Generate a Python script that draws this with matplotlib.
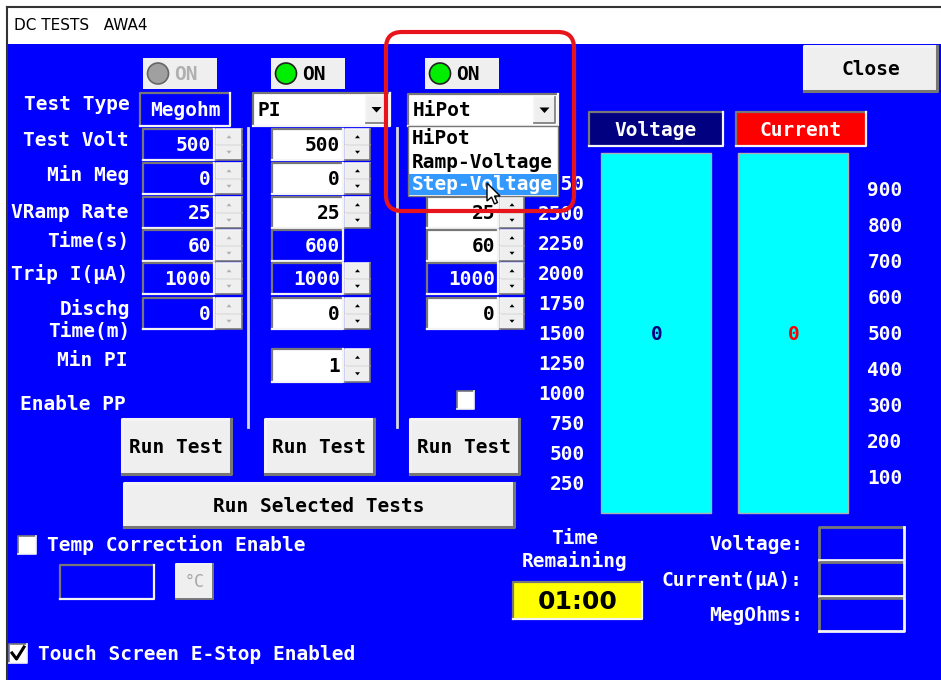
import matplotlib
matplotlib.use('Agg')
import matplotlib.pyplot as plt
from matplotlib.patches import Rectangle, FancyBboxPatch, Circle, Polygon

# ---- values shown on the screen ----
window_title = 'DC TESTS   AWA4'
test_types = ['Megohm', 'PI', 'HiPot']
test_enabled = [False, True, True]
row_labels = ['Test Volt', 'Min Meg', 'VRamp Rate', 'Time(s)', 'Trip I(μA)', 'Dischg\nTime(m)']
megohm_values = ['500', '0', '25', '60', '1000', '0']
pi_values = ['500', '0', '25', '600', '1000', '0']
hipot_values = ['500', '0', '25', '60', '1000', '0']
min_pi = '1'
dropdown_items = ['HiPot', 'Ramp-Voltage', 'Step-Voltage']
volt_ticks = [2750, 2500, 2250, 2000, 1750, 1500, 1250, 1000, 750, 500, 250]
curr_ticks = [900, 800, 700, 600, 500, 400, 300, 200, 100]
voltage_reading = 0
current_reading = 0
time_remaining = '01:00'
readout_labels = ['Voltage:', 'Current(μA):', 'MegOhms:']

BLUE = '#0000FF'
GRAY = '#EFEFEF'
MONO = 'DejaVu Sans Mono'

fig = plt.figure(figsize=(9.41, 6.80), dpi=100)
ax = fig.add_axes([0, 0, 1, 1])
ax.set_xlim(0, 941)
ax.set_ylim(680, 0)
ax.axis('off')


def box(x0, y0, x1, y1, fc, style='sunken', z=2, lw=1.6):
    ax.add_patch(Rectangle((x0, y0), x1 - x0, y1 - y0, fc=fc, ec='none', zorder=z))
    dark, light = '#777777', '#F4F4F4'
    tl, br = (dark, light) if style == 'sunken' else (light, dark)
    ax.plot([x0, x0, x1], [y1, y0, y0], color=tl, lw=lw, zorder=z + 0.1)
    ax.plot([x0, x1, x1], [y1, y1, y0], color=br, lw=lw, zorder=z + 0.1)


def txt(x, y, s, color='white', ha='left', size=14, weight='bold', family=MONO, z=5):
    ax.text(x, y, s, color=color, ha=ha, va='center', fontsize=size,
            fontweight=weight, family=family, zorder=z)


def spinner(x0, y0, x1, y1, enabled=True):
    ym = (y0 + y1) / 2
    col = 'black' if enabled else '#B0B0B0'
    for a, b, up in [(y0, ym, True), (ym, y1, False)]:
        box(x0, a, x1, b, GRAY, 'raised', lw=1.2)
        cx, cy = (x0 + x1) / 2, (a + b) / 2
        if up:
            pts = [(cx - 2.5, cy + 1.5), (cx + 2.5, cy + 1.5), (cx, cy - 1.5)]
        else:
            pts = [(cx - 2.5, cy - 1.5), (cx + 2.5, cy - 1.5), (cx, cy + 1.5)]
        ax.add_patch(Polygon(pts, fc=col, ec='none', zorder=4))


def combo(x0, y0, x1, y1, label):
    box(x0, y0, x1, y1, 'white', 'sunken')
    txt(x0 + 5, (y0 + y1) / 2 + 1, label, color='black')
    box(x1 - 24, y0 + 3, x1 - 3, y1 - 3, GRAY, 'raised', lw=1.2)
    cx, cy = x1 - 13.5, (y0 + y1) / 2
    ax.add_patch(Polygon([(cx - 5, cy - 2.5), (cx + 5, cy - 2.5), (cx, cy + 3)],
                         fc='black', ec='none', zorder=4))


def button(x0, y0, x1, y1, label, color='black'):
    box(x0, y0, x1, y1, GRAY, 'raised', lw=2.2)
    txt((x0 + x1) / 2, (y0 + y1) / 2 + 1, label, color=color, ha='center')


# background, window frame and title bar
ax.add_patch(Rectangle((0, 0), 941, 680, fc='white', ec='none', zorder=0))
ax.add_patch(Rectangle((7, 44), 934, 636, fc=BLUE, ec='none', zorder=1))
ax.plot([7, 941], [7, 7], color='#333333', lw=1.5, zorder=2)
ax.plot([7, 7], [7, 680], color='#333333', lw=1.5, zorder=2)
txt(14, 25, window_title, color='black', size=11, weight='normal', family='DejaVu Sans')

# left row labels
txt(130, 104, 'Test Type', ha='right')
label_y = [141, 175, 212, 241, 274]
for lab, y in zip(row_labels[:5], label_y):
    txt(129, y, lab, ha='right')
dis, tm = row_labels[5].split('\n')
txt(130, 309, dis, ha='right')
txt(130, 331, tm, ha='right')
txt(128, 360, 'Min PI', ha='right')
txt(126, 404, 'Enable PP', ha='right')

# ON indicators
on_x = [143, 271, 425]
for x0, on in zip(on_x, test_enabled):
    ax.add_patch(Rectangle((x0, 58), 74, 31, fc=GRAY, ec='none', zorder=2))
    ax.add_patch(Circle((x0 + 15, 73.5), 10.5, fc='#00EE00' if on else '#A0A0A0',
                        ec='#222222' if on else '#666666', lw=1.2, zorder=3))
    txt(x0 + 31, 74, 'ON', color='black' if on else '#B0B0B0')

# test type boxes
box(140, 93, 230, 126, BLUE, 'sunken')
txt(185, 110, test_types[0], ha='center')
combo(253, 93, 390, 126, test_types[1])
combo(408, 94, 558, 126, test_types[2])

# separators
for x in [248, 397]:
    ax.plot([x, x], [128, 427], color='#D8D8D8', lw=2, zorder=2)

# open dropdown list covers the top of the HiPot column
drop_top, drop_bot = 126, 196

# parameter fields
row_top = [129, 163, 197, 230, 263, 298]
col_x = [(143, 214, 216, 242), (272, 343, 345, 370), (427, 498, 500, 524)]
col_vals = [megohm_values, pi_values, hipot_values]
# per column: (field fill, spinner state) for each row; None -> no spinner
col_style = [
    [(BLUE, False)] * 6,
    [('white', True)] * 3 + [(BLUE, None), (BLUE, True), ('white', True)],
    [('white', True)] * 4 + [(BLUE, True), ('white', True)],
]
for ci, ((fx0, fx1, sx0, sx1), vals, styles) in enumerate(zip(col_x, col_vals, col_style)):
    for top, v, (fc, sp) in zip(row_top, vals, styles):
        bot = top + 31
        box(fx0, top, fx1, bot, fc, 'sunken')
        hidden = ci == 2 and bot <= drop_bot + 2
        if not hidden:
            txt(fx1 - 3, (top + bot) / 2 + 1, v, ha='right',
                color='white' if fc == BLUE else 'black')
        if sp is not None:
            spinner(sx0, top, sx1, bot, sp)

# Min PI field
box(272, 349, 343, 382, 'white', 'sunken')
txt(340, 366, min_pi, ha='right', color='black')
spinner(345, 349, 370, 382, True)

# Enable PP checkbox
box(457, 391, 474, 409, 'white', 'sunken', lw=1.2)

# run buttons
for x0 in [122, 265, 410]:
    button(x0, 419, x0 + 109, 474, 'Run Test')
button(124, 483, 514, 527, 'Run Selected Tests')

# voltage / current meters
box(589, 112, 723, 146, '#000080', 'sunken')
txt(656, 130, 'Voltage', ha='center')
box(736, 112, 866, 146, '#FF0000', 'sunken')
txt(801, 130, 'Current', ha='center')
ax.add_patch(Rectangle((601, 153), 110, 360, fc='#00FFFF', ec='#B0B0B0', lw=1, zorder=2))
ax.add_patch(Rectangle((738, 153), 110, 360, fc='#00FFFF', ec='#B0B0B0', lw=1, zorder=2))
txt(657, 334, str(voltage_reading), color='#000080', ha='center')
txt(794, 334, str(current_reading), color='#FF0000', ha='center')


def volt_y(v):
    return 483 - (v - 250) * 0.12


def curr_y(c):
    return 478 - (c - 100) * 0.36


for v in volt_ticks:
    txt(585, volt_y(v) + 1, str(v), ha='right')
for c in curr_ticks:
    txt(885, curr_y(c) + 1, str(c), ha='center')

# close button
button(804, 46, 937, 91, 'Close')

# temperature correction
box(18, 536, 36, 554, 'white', 'sunken', lw=1.2)
txt(47, 545, 'Temp Correction Enable')
box(60, 565, 154, 599, BLUE, 'sunken')
box(176, 564, 213, 599, GRAY, 'raised', lw=1.4)
txt(194.5, 582, '°C', color='#A8A8A8', ha='center', size=12, weight='normal')

# time remaining
txt(575, 539, 'Time', ha='center')
txt(575, 561, 'Remaining', ha='center')
box(513, 582, 642, 619, '#FFFF00', 'sunken')
txt(577.5, 602, time_remaining, color='black', ha='center', size=18, family='DejaVu Sans')

# readouts
read_y = [(527, 560), (562, 596), (598, 631)]
for lab, (a, b) in zip(readout_labels, read_y):
    txt(803, (a + b) / 2 + 1, lab, ha='right')
    box(819, a, 904, b, BLUE, 'sunken', lw=2)

# e-stop checkbox
box(9, 644, 27, 663, 'white', 'sunken', lw=1.2)
ax.plot([12, 16.5, 24], [653, 659, 647], color='black', lw=2.2, zorder=4)
txt(38, 654, 'Touch Screen E-Stop Enabled')

# open dropdown list
ax.add_patch(Rectangle((408, drop_top), 150, drop_bot - drop_top, fc='white',
                       ec='#777777', lw=1, zorder=6))
ax.add_patch(Rectangle((409, 174), 148, 21, fc='#3399FF', ec='none', zorder=6.5))
for item, y, c in zip(dropdown_items, [139, 162, 185], ['black', 'black', 'white']):
    txt(412, y, item, color=c, z=7)

# mouse cursor
tip_x, tip_y = 487, 183
arrow = [(0, 0), (0, 18), (4.5, 14), (7.5, 21), (10.5, 19.5), (7.5, 13), (13, 13)]
ax.add_patch(Polygon([(tip_x + dx, tip_y + dy) for dx, dy in arrow],
                     fc='white', ec='black', lw=1, zorder=9))

# red highlight around the dropdown
ax.add_patch(FancyBboxPatch((386, 32), 188, 179, boxstyle='round,pad=0,rounding_size=16',
                            fc='none', ec='#E8141C', lw=3, zorder=8))

fig.savefig('out.png', dpi=100)
